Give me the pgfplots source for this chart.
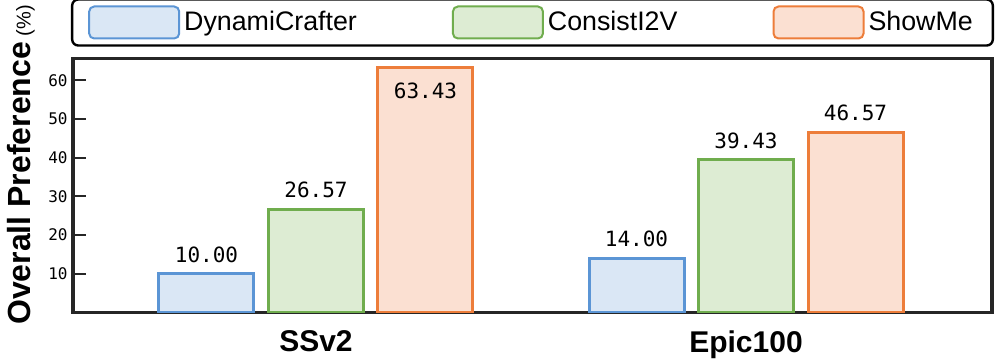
\documentclass[border=0pt]{standalone}
\usepackage{pgfplots}
\pgfplotsset{compat=1.18}
\usepackage{fontspec}
\setmainfont{Liberation Sans}
\newfontfamily\monofont{DejaVu Sans Mono}
\definecolor{bEdge}{HTML}{5B95D5}
\definecolor{bFill}{HTML}{DAE7F5}
\definecolor{gEdge}{HTML}{70AD4E}
\definecolor{gFill}{HTML}{DDECD3}
\definecolor{oEdge}{HTML}{ED7D3A}
\definecolor{oFill}{HTML}{FBE0D2}
\definecolor{axcol}{HTML}{262626}
\begin{document}
\begin{tikzpicture}
\begin{axis}[
  scale only axis, width=459.5pt, height=126.9pt,
  ybar=7.25pt, bar width=47.5pt,
  xmin=-0.565, xmax=1.572, ymin=0, ymax=65.6,
  xtick={0,1}, xticklabels={SSv2,Epic100},
  xtick style={draw=none},
  xticklabel style={font=\fontsize{15}{15}\selectfont\bfseries, inner sep=0pt, yshift=-9pt},
  ytick={10,20,30,40,50,60},
  ytick pos=left,
  tick align=inside,
  major tick length=6.5pt,
  ytick style={line width=1pt, color=axcol},
  yticklabel style={font=\monofont\fontsize{8}{8}\selectfont, inner sep=0pt, xshift=-2.5pt},
  /pgf/number format/assume math mode=true,
  axis line style={line width=1.6pt, color=axcol},
  ylabel={{\fontsize{16}{16}\selectfont\bfseries Overall Preference} {\fontsize{10}{10}\selectfont (\%)}},
  ylabel style={at={(axis description cs:-0.046,0.581)}, anchor=base},
  visualization depends on={y \as \rawy},
  nodes near coords={\pgfmathprintnumber[fixed,fixed zerofill,precision=2]{\pgfplotspointmeta}},
  nodes near coords style={font=\monofont\fontsize{10.5}{10.5}\selectfont, inner sep=0pt, anchor=south, yshift={5pt-21.5pt*(\rawy>60)}, color=black},
  every axis plot post/.append style={legend image code/.code={\draw[#1, line width=1pt, rounded corners=2.5pt] (0pt,-8pt) rectangle (45pt,8pt);}},
  legend style={at={(axis description cs:0.5,1)}, anchor=south, yshift=6pt,
    draw=black, line width=1.2pt, rounded corners=3pt, inner xsep=8pt, inner ysep=3pt,
    font=\fontsize{13.4}{13.4}\selectfont,
    /tikz/every even column/.append style={column sep=45.5pt}},
  legend columns=3,
]
\addplot[draw=bEdge, fill=bFill, line width=1.5pt] coordinates {(0,10.00) (1,14.00)};
\addplot[draw=gEdge, fill=gFill, line width=1.5pt] coordinates {(0,26.57) (1,39.43)};
\addplot[draw=oEdge, fill=oFill, line width=1.5pt] coordinates {(0,63.43) (1,46.57)};
\legend{DynamiCrafter,ConsistI2V,ShowMe}
\end{axis}
\pgfresetboundingbox
\path (current axis.south west) ++(-36.5pt,-23.75pt) rectangle ++(498.5pt,180pt);
\end{tikzpicture}
\end{document}
